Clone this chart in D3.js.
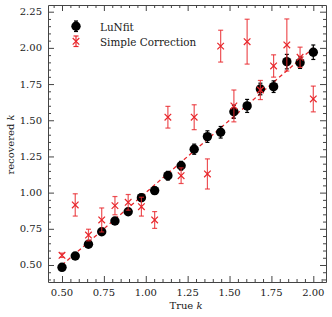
<!DOCTYPE html>
<html>
<head>
<meta charset="utf-8">
<script src="https://cdn.jsdelivr.net/npm/d3@7"></script>
<style>
  body { margin: 0; background: #fff; }
  text { font-family: "DejaVu Serif", "Liberation Serif", serif; fill: #1a1a1a; }
</style>
</head>
<body>
<div id="chart"></div>
<script>
var width = 332,
  height = 317;

// true k values (evenly spaced grid)
var trueK = [0.500, 0.579, 0.658, 0.737, 0.816, 0.895, 0.974, 1.053, 1.132, 1.211,
  1.289, 1.368, 1.447, 1.526, 1.605, 1.684, 1.763, 1.842, 1.921, 2.000];

var lunfit = [0.484, 0.562, 0.643, 0.730, 0.804, 0.868, 0.965, 1.014, 1.117, 1.186,
  1.300, 1.387, 1.417, 1.559, 1.599, 1.716, 1.732, 1.905, 1.898, 1.970];
var lunfitErr = [0.015, 0.015, 0.02, 0.02, 0.02, 0.02, 0.025, 0.025, 0.03, 0.03,
  0.035, 0.04, 0.04, 0.045, 0.045, 0.04, 0.04, 0.05, 0.04, 0.05];

var simple = [0.567, 0.915, 0.707, 0.811, 0.910, 0.933, 0.903, 0.811, 1.521, 1.117,
  1.521, 1.129, 2.012, 1.599, 2.043, 1.709, 1.875, 2.020, 1.935, 1.647];
var simpleErr = [0.015, 0.077, 0.04, 0.083, 0.063, 0.054, 0.065, 0.058, 0.075, 0.054,
  0.086, 0.104, 0.11, 0.11, 0.155, 0.066, 0.077, 0.18, 0.07, 0.089];

var xTicks = [0.50, 0.75, 1.00, 1.25, 1.50, 1.75, 2.00];
var yTicks = [0.50, 0.75, 1.00, 1.25, 1.50, 1.75, 2.00, 2.25];

var mLeft = 48, mRight = 326, mTop = 5, mBottom = 282;

var x = d3.scaleLinear().domain([0.4164, 2.0758]).range([mLeft, mRight]);
var y = d3.scaleLinear().domain([0.3825, 2.2963]).range([mBottom, mTop]);

var red = "#e8262b";

var svg = d3.select("#chart").append("svg")
  .attr("width", width)
  .attr("height", height);

// minor tick values every 0.05
var xMinor = d3.range(0.45, 2.0751, 0.05);
var yMinor = d3.range(0.40, 2.2963, 0.05);

function isMajor(v) { return Math.abs(v * 4 - Math.round(v * 4)) < 1e-6; }

// axes (ticks inward on all four sides)
var axes = [
  [d3.axisBottom(x), "translate(0," + mBottom + ")", xMinor],
  [d3.axisTop(x), "translate(0," + mTop + ")", xMinor],
  [d3.axisLeft(y), "translate(" + mLeft + ",0)", yMinor],
  [d3.axisRight(y), "translate(" + mRight + ",0)", yMinor]
];

axes.forEach(function (a) {
  var g = svg.append("g").attr("transform", a[1]);
  g.call(a[0].tickValues(a[2]).tickSizeInner(-3).tickSizeOuter(0).tickFormat(""));
  g.selectAll(".tick line")
    .attr("stroke", "#444")
    .each(function (d) {
      if (isMajor(d)) {
        var ln = d3.select(this);
        if (ln.attr("y2") != null) ln.attr("y2", +ln.attr("y2") * 2);
        if (ln.attr("x2") != null) ln.attr("x2", +ln.attr("x2") * 2);
      }
    });
  g.select(".domain").attr("stroke", "#444");
});

svg.append("g").selectAll("text").data(xTicks).enter().append("text")
  .attr("x", function (d) { return x(d); })
  .attr("y", 296)
  .attr("text-anchor", "middle")
  .style("font-size", "10px")
  .text(function (d) { return d.toFixed(2); });

svg.append("g").selectAll("text").data(yTicks).enter().append("text")
  .attr("x", 42)
  .attr("y", function (d) { return y(d) + 3.5; })
  .attr("text-anchor", "end")
  .style("font-size", "10px")
  .text(function (d) { return d.toFixed(2); });

// axis labels
var xl = svg.append("text")
  .attr("x", 186)
  .attr("y", 309)
  .attr("text-anchor", "middle")
  .style("font-size", "10px");
xl.append("tspan").text("True ");
xl.append("tspan").style("font-style", "italic").text("k");

var yl = svg.append("text")
  .attr("transform", "translate(14,144.5)rotate(-90)")
  .attr("text-anchor", "middle")
  .style("font-size", "10px");
yl.append("tspan").text("recovered ");
yl.append("tspan").style("font-style", "italic").text("k");

// one-to-one line
svg.append("line")
  .attr("x1", x(0.5)).attr("y1", y(0.5))
  .attr("x2", x(2.0)).attr("y2", y(2.0))
  .attr("stroke", red)
  .attr("stroke-width", 1.3)
  .attr("stroke-dasharray", "4,3");

function errorBars(vals, errs, color, cap, opacity) {
  var g = svg.append("g").attr("stroke", color).attr("stroke-width", 1.2).attr("stroke-opacity", opacity);
  trueK.forEach(function (k, i) {
    var cx = x(k), y0 = y(vals[i] - errs[i]), y1 = y(vals[i] + errs[i]);
    g.append("line").attr("x1", cx).attr("x2", cx).attr("y1", y0).attr("y2", y1);
    g.append("line").attr("x1", cx - cap).attr("x2", cx + cap).attr("y1", y0).attr("y2", y0);
    g.append("line").attr("x1", cx - cap).attr("x2", cx + cap).attr("y1", y1).attr("y2", y1);
  });
}

// LuNfit
errorBars(lunfit, lunfitErr, "#000", 2, 1);
svg.append("g").selectAll("circle").data(trueK).enter().append("circle")
  .attr("cx", function (d) { return x(d); })
  .attr("cy", function (d, i) { return y(lunfit[i]); })
  .attr("r", 4.7)
  .attr("fill", "#000");

// Simple correction
errorBars(simple, simpleErr, red, 2.5, 0.8);
svg.append("g").selectAll("path").data(trueK).enter().append("path")
  .attr("transform", function (d, i) { return "translate(" + x(d) + "," + y(simple[i]) + ")"; })
  .attr("d", d3.symbol().type(d3.symbolX).size(30))
  .attr("fill", "none")
  .attr("stroke", red)
  .attr("stroke-width", 1.2);

// legend
var lg = svg.append("g");
lg.append("line").attr("x1", 76).attr("x2", 76).attr("y1", 21).attr("y2", 31.5).attr("stroke", "#000").attr("stroke-width", 1.2);
lg.append("line").attr("x1", 74).attr("x2", 78).attr("y1", 21).attr("y2", 21).attr("stroke", "#000").attr("stroke-width", 1.2);
lg.append("line").attr("x1", 74).attr("x2", 78).attr("y1", 31.5).attr("y2", 31.5).attr("stroke", "#000").attr("stroke-width", 1.2);
lg.append("circle").attr("cx", 76).attr("cy", 26.3).attr("r", 4.7).attr("fill", "#000");
lg.append("text").attr("x", 100).attr("y", 31).style("font-size", "10.4px").text("LuNfit");

lg.append("line").attr("x1", 76).attr("x2", 76).attr("y1", 36).attr("y2", 46.5).attr("stroke", red).attr("stroke-width", 1.2);
lg.append("line").attr("x1", 73.5).attr("x2", 78.5).attr("y1", 36).attr("y2", 36).attr("stroke", red).attr("stroke-width", 1.2);
lg.append("line").attr("x1", 73.5).attr("x2", 78.5).attr("y1", 46.5).attr("y2", 46.5).attr("stroke", red).attr("stroke-width", 1.2);
lg.append("path").attr("transform", "translate(76,41.3)")
  .attr("d", d3.symbol().type(d3.symbolX).size(30))
  .attr("fill", "none").attr("stroke", red).attr("stroke-width", 1.2);
lg.append("text").attr("x", 100).attr("y", 45.5).style("font-size", "10.4px").text("Simple Correction");
</script>
</body>
</html>
